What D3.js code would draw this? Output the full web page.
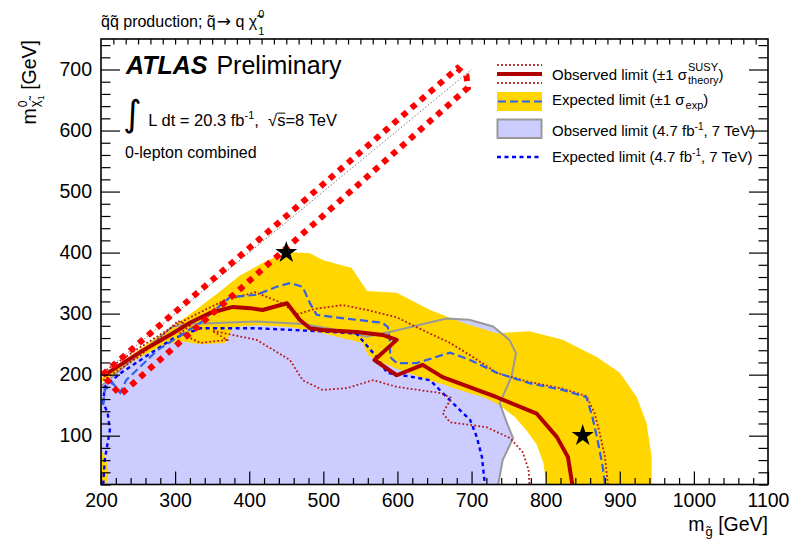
<!DOCTYPE html>
<html>
<head>
<meta charset="utf-8">
<script src="https://cdn.jsdelivr.net/npm/d3@7"></script>
<style>
  body { margin: 0; background: #fff; }
  svg { display: block; }
  text { font-family: "Liberation Sans", Arial, Helvetica, sans-serif; fill: #000; white-space: pre; }
</style>
</head>
<body>
<svg id="chart" width="808" height="540"></svg>
<script>
// ---- axis ranges and ticks (GeV) ----
const xDomain = [200, 1100];
const yDomain = [20, 750];
const xMajorTicks = [200, 300, 400, 500, 600, 700, 800, 900, 1000, 1100];
const yMajorTicks = [100, 200, 300, 400, 500, 600, 700];
const xMinorStep = 20;
const yMinorStep = 20;
const topTickCount = 54;

// ---- contours: [m(squark), m(neutralino)] in GeV ----
// 7 TeV observed exclusion (upper boundary of the filled area)
const obs7Boundary = [[200,181],[248,230],[297,279],[320,283],[410,287],[473,283],[527,271],[558,262],
  [594,271],[666,292],[697,290],[729,279],[751,257],[760,235],[754,197],[738,153],[747,123],[756,96],
  [742,60],[736,20]];
// expected +-1 sigma band: outer edge then inner edge
const expBandOuter = [[200,194.5],[239,230.5],[279.5,265],[320,299],[354,330],[387,362],[421,385],
  [451,401],[482,399],[499,388],[522,380],[538,375],[559,337],[599,334],[644,306],[688,285],[734,268],
  [778,271],[823,257],[869,229],[900,203],[923,163],[936,121],[943,65],[943,20]];
const expBandInner = [[801,20],[797,55],[788,85],[774,109],[758,131],[738,150],[718,162],[691,172],
  [664,183],[637,193],[603,208],[576,221],[560,232],[553,252],[499,268],[455,278],[410,281],[378,278],
  [368,252],[333,250],[306,255],[286,249],[253,229],[226,208],[204,190],[200,186]];
const expBandLow = [[200,20],[200,75],[204,70],[208,55],[210,38],[207,20]];
// 8 TeV observed limit and its theory variations
const obsLimit = [[203,198],[253,237],[297,268],[320,285],[347,301],[378,311],[401,309],[418,306],
  [451,317],[468,290],[482,276],[499,273],[545,270],[580,265],[599,257],[569,224],[599,199],[634,216],
  [661,196],[734,163],[788,136],[815,98],[830,65],[836,20]];
const obsPlus = [[203,204],[253,245],[300,281],[340,306],[367,322],[408,335],[441,319],[466,299],
  [489,308],[526,314],[559,306],[599,294],[634,273],[671,252],[698,232],[734,203],[778,188],[823,177],
  [855,165],[866,137],[873,104],[880,65],[884,20]];
const obsMinus = [[203,191],[253,231],[304,288],[320,280],[307,268],[334,252],[370,257],[350,272],
  [410,257],[455,224],[472,191],[499,175],[532,178],[567,191],[599,180],[657,170],[673,162],[661,137],
  [671,122],[720,114],[752,96],[769,73],[777,44],[778,20]];
// 8 TeV expected limit
const expLimit = [[203,150],[205,175],[216,186],[226,170],[234,191],[276,240],[334,285],[374,327],
  [410,331],[437,344],[455,350],[472,344],[482,317],[491,298],[522,293],[580,285],[587,278],[590,252],
  [590,229],[599,219],[626,219],[671,236],[698,224],[734,203],[778,186],[823,175],[855,163],[863,131],
  [870,93],[877,49],[880,20]];
// 7 TeV expected limit
const exp7Limit = [[203,20],[205,60],[212,109],[209,137],[203,154],[205,180],[226,202],[257,227],
  [297,259],[334,276],[409,276],[499,271],[545,267],[572,229],[586,203],[621,196],[644,191],[661,170],
  [680,147],[698,126],[707,98],[714,65],[718,20]];
// kinematic diagonal and the highlighted compressed region
const diagonal = [[200,200],[700,700]];
const compressedRegion = [[202,200],[681,702],[693,690],[695,670],[226,167],[202,200]];
// highlighted signal points
const markedPoints = [[450,400],[850,100]];

// ---- layout ----
const L = 101, R = 768, T = 39, B = 484.5;
const svg = d3.select("#chart");
const x = d3.scaleLinear().domain(xDomain).range([L, R]);
const y = d3.scaleLinear().domain(yDomain).range([B, T]);
const line = d3.line().x(d => x(d[0])).y(d => y(d[1]));

svg.append("defs").append("clipPath").attr("id", "plotArea")
  .append("rect").attr("x", L).attr("y", T).attr("width", R - L).attr("height", B - T);
const plot = svg.append("g").attr("clip-path", "url(#plotArea)");

// filled areas
plot.append("path").attr("d", line([...obs7Boundary, [200, 20]]) + "Z").attr("fill", "#ccccff");
plot.append("path").attr("d", line([...expBandOuter, ...expBandInner]) + "Z").attr("fill", "#ffd600");
plot.append("path").attr("d", line(expBandLow) + "Z").attr("fill", "#ffd600");

// contour lines
plot.append("path").attr("d", line(obs7Boundary)).attr("fill", "none")
  .attr("stroke", "#999").attr("stroke-width", 2);
plot.append("path").attr("d", line(exp7Limit)).attr("fill", "none")
  .attr("stroke", "#0000ff").attr("stroke-width", 2.4).attr("stroke-dasharray", "4 3.5");
[obsPlus, obsMinus].forEach(c => plot.append("path").attr("d", line(c)).attr("fill", "none")
  .attr("stroke", "#b81818").attr("stroke-width", 1.8).attr("stroke-dasharray", "1.8 2.2"));
plot.append("path").attr("d", line(expLimit)).attr("fill", "none")
  .attr("stroke", "#3360e6").attr("stroke-width", 2.2).attr("stroke-dasharray", "8 4");
plot.append("path").attr("d", line(obsLimit)).attr("fill", "none")
  .attr("stroke", "#b00000").attr("stroke-width", 4).attr("stroke-linejoin", "round");

// diagonal and compressed region outline
plot.append("path").attr("d", line(diagonal)).attr("fill", "none")
  .attr("stroke", "#777").attr("stroke-width", 1).attr("stroke-dasharray", "1.5 2");
plot.append("path").attr("d", line(compressedRegion)).attr("fill", "none")
  .attr("stroke", "#ff0000").attr("stroke-width", 6).attr("stroke-dasharray", "6 6");

// stars
svg.selectAll(".star").data(markedPoints).join("path")
  .attr("class", "star")
  .attr("d", d3.symbol(d3.symbolStar, 150)())
  .attr("transform", d => `translate(${x(d[0])},${y(d[1])})`)
  .attr("fill", "#000");

// ---- axes: ticks inside the frame on all four sides ----
function range(a, b, s) { const r = []; for (let v = a; v <= b + 1e-9; v += s) r.push(v); return r; }
const xMinor = range(xDomain[0], xDomain[1], xMinorStep).filter(v => !xMajorTicks.includes(v));
const yMinor = range(yDomain[0], yDomain[1], yMinorStep).filter(v => !yMajorTicks.includes(v));
const topTicks = d3.range(1, topTickCount).map(i => xDomain[0] + i * (xDomain[1] - xDomain[0]) / topTickCount);
const xMaj = 13, xMin = 6.5, yMaj = 19, yMin = 9.5, topLen = 5.5;

function tickAxis(axisFn, scale, values, size, labels, transform, pad) {
  const a = axisFn(scale).tickValues(values).tickSize(-size).tickPadding(pad || 3)
    .tickFormat(labels ? d3.format("d") : "");
  const g = svg.append("g").attr("transform", transform).call(a);
  g.select(".domain").remove();
  g.selectAll("line").attr("stroke", "#000").attr("stroke-width", 1.2);
  g.selectAll("text").style("font-family", '"Liberation Sans", Arial, sans-serif')
    .style("font-size", "19.5px").attr("fill", "#000");
  return g;
}
tickAxis(d3.axisBottom, x, xMinor, xMin, false, `translate(0,${B})`);
tickAxis(d3.axisBottom, x, xMajorTicks, xMaj, true, `translate(0,${B})`, 8.6);
tickAxis(d3.axisTop, x, topTicks, topLen, false, `translate(0,${T})`);
tickAxis(d3.axisLeft, y, yMinor, yMin, false, `translate(${L},0)`);
tickAxis(d3.axisLeft, y, yMajorTicks, yMaj, true, `translate(${L},0)`, 9);
tickAxis(d3.axisRight, y, yMinor, yMin, false, `translate(${R},0)`);
tickAxis(d3.axisRight, y, yMajorTicks, yMaj, false, `translate(${R},0)`);

svg.append("rect").attr("x", L).attr("y", T).attr("width", R - L).attr("height", B - T)
  .attr("fill", "none").attr("stroke", "#000").attr("stroke-width", 1.6);

// ---- rich text: pieces laid out left to right, "stack" pieces share the previous start ----
function rich(parent, pieces, tx, ty, anchorEnd, rot) {
  const g = parent.append("g");
  let cx = 0, prevStart = 0;
  pieces.forEach(p => {
    const start = (p.stack ? prevStart : cx) + (p.dx || 0);
    const t = g.append("text").attr("x", start).attr("y", p.dy || 0)
      .attr("xml:space", "preserve")
      .style("font-size", p.s + "px").text(p.t);
    if (p.family) t.style("font-family", p.family);
    if (p.bold) t.style("font-weight", "bold");
    if (p.italic) t.style("font-style", "italic");
    const w = t.node().getComputedTextLength();
    if (p.over) g.append("line").attr("x1", start).attr("x2", start + w)
      .attr("y1", (p.dy || 0) - p.s * 0.78).attr("y2", (p.dy || 0) - p.s * 0.78)
      .attr("stroke", "#000").attr("stroke-width", 1);
    if (p.stack) cx = Math.max(cx, start + w);
    else { prevStart = start; cx = start + w; }
  });
  const shift = anchorEnd ? -cx : 0;
  g.attr("transform", `translate(${tx},${ty})${rot ? ` rotate(${rot})` : ""} translate(${shift},0)`);
  return g;
}

// title
rich(svg, [
  { t: "q\u0303q\u0303 production; q\u0303", s: 16 },
  { t: "\u2192", s: 17, family: '"DejaVu Sans", sans-serif', dx: 1 },
  { t: " q \u03c7\u0303", s: 16 },
  { t: "0", s: 11, dy: -9, dx: 1 },
  { t: "1", s: 11, dy: 8, stack: true }
], 101, 27);

// experiment label
rich(svg, [
  { t: "ATLAS", s: 25, bold: true, italic: true },
  { t: " Preliminary", s: 25, dx: 2 }
], 126, 74);

rich(svg, [
  { t: "\u222b", s: 36, family: '"DejaVu Sans", sans-serif' },
  { t: " L dt = 20.3 fb", s: 16.5, dx: 2 },
  { t: "-1", s: 11, dy: -7 },
  { t: ",  \u221a", s: 16.5 },
  { t: "s", s: 16.5, over: true },
  { t: "=8 TeV", s: 16.5 }
], 123, 126);

rich(svg, [{ t: "0-lepton combined", s: 16 }], 125, 158);

// axis titles
rich(svg, [
  { t: "m", s: 19.5 },
  { t: "g\u0303", s: 13, dy: 5, dx: 1 },
  { t: " [GeV]", s: 19.5 }
], R, 531, true);

rich(svg, [
  { t: "m", s: 19.5 },
  { t: "0", s: 12, dy: -9, dx: 1 },
  { t: "\u03c7\u0303", s: 13, dy: 3, stack: true },
  { t: "1", s: 9, dy: 8 },
  { t: " [GeV]", s: 19.5 }
], 36, T + 1, true, -90);

// ---- legend ----
const lx0 = 497, lx1 = 542, ltx = 552;
const leg = svg.append("g");
leg.append("line").attr("x1", lx0).attr("x2", lx1).attr("y1", 65).attr("y2", 65)
  .attr("stroke", "#c02020").attr("stroke-width", 1.8).attr("stroke-dasharray", "1.8 2.2");
leg.append("line").attr("x1", lx0).attr("x2", lx1).attr("y1", 83).attr("y2", 83)
  .attr("stroke", "#c02020").attr("stroke-width", 1.8).attr("stroke-dasharray", "1.8 2.2");
leg.append("line").attr("x1", lx0).attr("x2", lx1).attr("y1", 74).attr("y2", 74)
  .attr("stroke", "#b00000").attr("stroke-width", 4);
leg.append("rect").attr("x", lx0).attr("y", 92).attr("width", lx1 - lx0).attr("height", 19).attr("fill", "#ffd600");
leg.append("line").attr("x1", lx0 + 1).attr("x2", lx1).attr("y1", 101.5).attr("y2", 101.5)
  .attr("stroke", "#3360e6").attr("stroke-width", 2.2).attr("stroke-dasharray", "8 4");
leg.append("rect").attr("x", lx0 + 0.5).attr("y", 119.5).attr("width", lx1 - lx0 - 1).attr("height", 18.5)
  .attr("fill", "#ccccff").attr("stroke", "#999").attr("stroke-width", 2);
leg.append("line").attr("x1", lx0).attr("x2", lx1).attr("y1", 157).attr("y2", 157)
  .attr("stroke", "#0000ff").attr("stroke-width", 2.4).attr("stroke-dasharray", "4 3.5");

rich(leg, [
  { t: "Observed limit (\u00b11 \u03c3", s: 15 },
  { t: "SUSY", s: 11, dy: -9, dx: 1 },
  { t: "theory", s: 11, dy: 4, stack: true },
  { t: ")", s: 15 }
], ltx, 80);
rich(leg, [
  { t: "Expected limit (\u00b11 \u03c3", s: 15 },
  { t: "exp", s: 11, dy: 4, dx: 1 },
  { t: ")", s: 15 }
], ltx, 105);
rich(leg, [
  { t: "Observed limit (4.7 fb", s: 15 },
  { t: "-1", s: 10, dy: -6 },
  { t: ", 7 TeV)", s: 15 }
], ltx, 136);
rich(leg, [
  { t: "Expected limit (4.7 fb", s: 15 },
  { t: "-1", s: 10, dy: -6 },
  { t: ", 7 TeV)", s: 15 }
], ltx, 161.5);
</script>
</body>
</html>
